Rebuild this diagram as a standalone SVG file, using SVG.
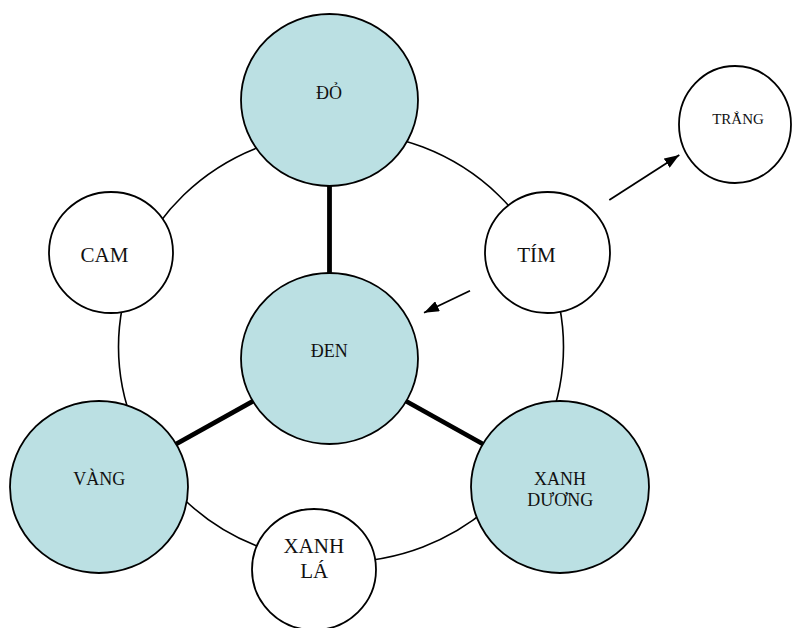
<svg xmlns="http://www.w3.org/2000/svg" width="792" height="628" viewBox="0 0 792 628">
  <defs>
    <marker id="arrow" viewBox="0 0 15 11" refX="15" refY="5.5" markerWidth="15" markerHeight="11" markerUnits="userSpaceOnUse" orient="auto">
      <path d="M0,0 L15,5.5 L0,11 Z" fill="#000"/>
    </marker>
  </defs>
  <style>
    .ring { fill: none; stroke: #000; stroke-width: 1.6; }
    .thick { stroke: #000; stroke-width: 4.8; }
    .arr { stroke: #000; stroke-width: 1.8; fill: none; }
    .blue { fill: #BBE0E3; stroke: #000; stroke-width: 1.8; }
    .white { fill: #FFFFFF; stroke: #000; stroke-width: 1.8; }
    text { font-family: "Liberation Serif", "Times New Roman", serif; fill: #111; text-anchor: middle; }
    .s18 { font-size: 18px; }
    .s21 { font-size: 21px; }
    .s15 { font-size: 15px; }
  </style>
  <rect width="792" height="628" fill="#FFFFFF"/>
  <g id="connectors">
    <ellipse class="ring" cx="341" cy="347" rx="222.5" ry="215"/>
    <line class="thick" x1="329.5" y1="100" x2="329.5" y2="358.5"/>
    <line class="thick" x1="329.5" y1="358.5" x2="99" y2="487"/>
    <line class="thick" x1="329.5" y1="358.5" x2="560" y2="487"/>
    <line class="arr" x1="609.3" y1="200" x2="679.3" y2="155" marker-end="url(#arrow)"/>
    <line class="arr" x1="470" y1="290.7" x2="424" y2="312.7" marker-end="url(#arrow)"/>
  </g>
  <g id="node-do">
    <ellipse class="blue" cx="329.5" cy="100" rx="88.5" ry="86"/>
    <text class="s18" x="329" y="99">ĐỎ</text>
  </g>
  <g id="node-den">
    <ellipse class="blue" cx="329.5" cy="358.5" rx="88.5" ry="85.5"/>
    <text class="s18" x="329.3" y="356.7">ĐEN</text>
  </g>
  <g id="node-vang">
    <ellipse class="blue" cx="99" cy="487" rx="89" ry="86"/>
    <text class="s18" x="99.2" y="485">VÀNG</text>
  </g>
  <g id="node-xanh-duong">
    <ellipse class="blue" cx="560" cy="487" rx="89" ry="86"/>
    <text class="s18" x="560" y="485">XANH</text>
    <text class="s18" x="560.3" y="506">DƯƠNG</text>
  </g>
  <g id="node-cam">
    <ellipse class="white" cx="111" cy="252.5" rx="62" ry="60.5"/>
    <text class="s21" x="104.5" y="261.7">CAM</text>
  </g>
  <g id="node-tim">
    <ellipse class="white" cx="547.5" cy="252.5" rx="62.5" ry="60.5"/>
    <text class="s21" x="536.5" y="261.7">TÍM</text>
  </g>
  <g id="node-xanh-la">
    <ellipse class="white" cx="314" cy="569.5" rx="62" ry="60.5"/>
    <text class="s21" x="313.8" y="553.3">XANH</text>
    <text class="s21" x="314.3" y="578.3">LÁ</text>
  </g>
  <g id="node-trang">
    <ellipse class="white" cx="735" cy="124.5" rx="56" ry="58.5"/>
    <text class="s15" x="738" y="124">TRẮNG</text>
  </g>
</svg>
